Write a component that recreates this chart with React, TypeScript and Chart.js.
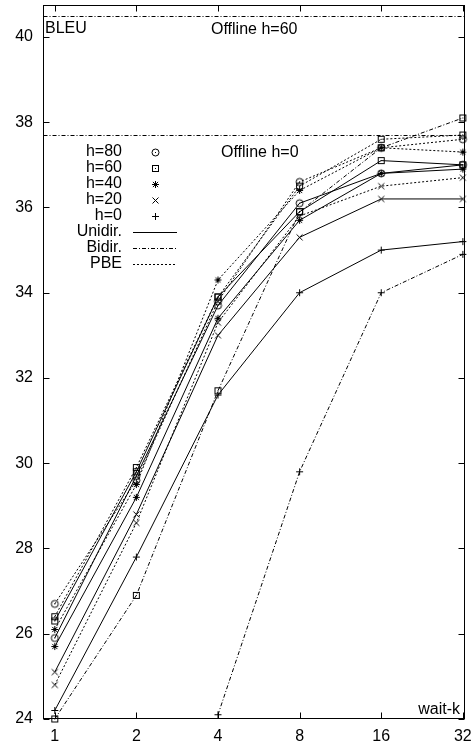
import React, { useEffect, useRef } from 'react';
import { Chart, registerables } from 'chart.js';

Chart.register(...registerables);

// ---- data ----
const waitK = [1, 2, 4, 8, 16, 32];
const yTickValues = [24, 26, 28, 30, 32, 34, 36, 38, 40];

const unidirH80 = [25.9, 29.7, 33.7, 36.1, 36.8, 37.0];
const pbeH80 = [26.7, 29.6, 33.8, 36.6, 37.4, 37.6];
const unidirH60 = [26.3, 29.8, 33.9, 35.9, 37.1, 37.0];
const pbeH60 = [26.4, 29.9, 33.9, 36.5, 37.6, 37.7];
const unidirH40 = [25.7, 29.2, 33.4, 35.7, 36.8, 36.9];
const pbeH40 = [26.1, 29.5, 34.3, 36.4, 37.4, 37.3];
const unidirH20 = [25.1, 28.8, 33.0, 35.3, 36.2, 36.2];
const pbeH20 = [24.8, 28.6, 33.3, 35.8, 36.5, 36.7];
const unidirH0 = [24.2, 27.8, 31.6, 34.0, 35.0, 35.2];
const bidirH60 = [24.0, 26.9, 31.7, 35.9, 37.4, 38.1];
const bidirH0 = [null, null, 24.1, 29.8, 34.0, 34.9];

const offlineValues = [40.5, 37.7];
const offlineLabels = ['Offline h=60', 'Offline h=0'];

const markerLabels = ['h=80', 'h=60', 'h=40', 'h=20', 'h=0'];
const markerKinds = ['circleDot', 'rectDot', 'star', 'x', 'plus'];
const styleLabels = ['Unidir.', 'Bidir.', 'PBE'];

const yTitle = 'BLEU';
const xTitle = 'wait-k';

// ---- styles ----
const FONT = '"Liberation Sans", Arial, Helvetica, sans-serif';
const DASH_SOLID: number[] = [];
const DASH_DASHDOT = [4, 2, 1, 2];
const DASH_DOT = [2, 2];
const styleDashes = [DASH_SOLID, DASH_DASHDOT, DASH_DOT];

function makeMarker(kind: string): HTMLCanvasElement {
  const c = document.createElement('canvas');
  c.width = 11;
  c.height = 11;
  const g = c.getContext('2d')!;
  g.strokeStyle = '#000';
  g.fillStyle = '#000';
  g.lineWidth = 1;
  const m = 5.5;
  g.beginPath();
  if (kind === 'circleDot') {
    g.arc(m, m, 3.5, 0, Math.PI * 2);
    g.stroke();
    g.fillRect(5, 5, 1, 1);
  } else if (kind === 'rectDot') {
    g.strokeRect(2.5, 2.5, 6, 6);
    g.fillRect(5, 5, 1, 1);
  } else if (kind === 'star') {
    const r = 3.5;
    g.moveTo(m - r, m); g.lineTo(m + r, m);
    g.moveTo(m, m - r); g.lineTo(m, m + r);
    g.moveTo(m - 2.6, m - 2.6); g.lineTo(m + 2.6, m + 2.6);
    g.moveTo(m - 2.6, m + 2.6); g.lineTo(m + 2.6, m - 2.6);
    g.stroke();
  } else if (kind === 'x') {
    const r = 3;
    g.moveTo(m - r, m - r); g.lineTo(m + r, m + r);
    g.moveTo(m - r, m + r); g.lineTo(m + r, m - r);
    g.stroke();
  } else {
    const r = 3.5;
    g.moveTo(m - r, m); g.lineTo(m + r, m);
    g.moveTo(m, m - r); g.lineTo(m, m + r);
    g.stroke();
  }
  return c;
}

export default function App() {
  const ref = useRef<HTMLCanvasElement | null>(null);

  useEffect(() => {
    if (!ref.current) return;
    const markers: Record<string, HTMLCanvasElement> = {};
    markerKinds.forEach((k) => (markers[k] = makeMarker(k)));

    const mk = (vals: (number | null)[], marker: string, dash: number[]) => ({
      data: waitK.map((k, i) => ({ x: k, y: vals[i] })),
      borderColor: '#000',
      backgroundColor: '#000',
      borderWidth: 1,
      borderDash: dash,
      pointStyle: markers[marker],
      pointRadius: 4,
      pointHoverRadius: 4,
      tension: 0,
      spanGaps: false,
      clip: false as any,
    });

    const datasets = [
      mk(unidirH80, 'circleDot', DASH_SOLID),
      mk(pbeH80, 'circleDot', DASH_DOT),
      mk(unidirH60, 'rectDot', DASH_SOLID),
      mk(pbeH60, 'rectDot', DASH_DOT),
      mk(unidirH40, 'star', DASH_SOLID),
      mk(pbeH40, 'star', DASH_DOT),
      mk(unidirH20, 'x', DASH_SOLID),
      mk(pbeH20, 'x', DASH_DOT),
      mk(unidirH0, 'plus', DASH_SOLID),
      mk(bidirH60, 'rectDot', DASH_DASHDOT),
      mk(bidirH0, 'plus', DASH_DASHDOT),
    ];

    const decor = {
      id: 'decor',
      afterDraw(chart: any) {
        const { ctx, chartArea: a, scales } = chart;
        const xs = scales.x;
        const ys = scales.y;
        ctx.save();
        ctx.strokeStyle = '#000';
        ctx.fillStyle = '#000';
        ctx.lineWidth = 1;
        const L = Math.round(a.left) + 0.5;
        const R = Math.round(a.right) - 0.5;
        const T = Math.round(a.top) + 0.5;
        const B = Math.round(a.bottom) - 0.5;
        // frame
        ctx.setLineDash([]);
        ctx.strokeRect(L, T, R - L, B - T);
        // inward ticks
        const tl = 6;
        ctx.beginPath();
        yTickValues.forEach((v) => {
          const py = Math.round(ys.getPixelForValue(v)) + 0.5;
          ctx.moveTo(L, py); ctx.lineTo(L + tl, py);
          ctx.moveTo(R, py); ctx.lineTo(R - tl, py);
        });
        waitK.forEach((v) => {
          const px = Math.round(xs.getPixelForValue(v)) + 0.5;
          ctx.moveTo(px, B); ctx.lineTo(px, B - tl);
          ctx.moveTo(px, T); ctx.lineTo(px, T + tl);
        });
        ctx.stroke();
        // offline lines
        ctx.font = `16px ${FONT}`;
        ctx.textBaseline = 'middle';
        const labelLeft = [a.left + 168, a.left + 178];
        const labelDy = [13, 17];
        offlineValues.forEach((v, i) => {
          const py = Math.round(ys.getPixelForValue(v)) + 0.5;
          ctx.setLineDash(DASH_DASHDOT);
          ctx.beginPath();
          ctx.moveTo(L, py);
          ctx.lineTo(R, py);
          ctx.stroke();
          ctx.setLineDash([]);
          ctx.textAlign = 'left';
          ctx.fillText(offlineLabels[i], labelLeft[i], py + labelDy[i]);
        });
        // titles
        ctx.textAlign = 'left';
        ctx.fillText(yTitle, a.left + 2, a.top + 24);
        ctx.textAlign = 'right';
        ctx.fillText(xTitle, a.right - 5, a.bottom - 9);
        // legend
        const textRight = a.left + 79;
        const sampleL = a.left + 90;
        const sampleR = a.left + 134;
        const y0 = 152;
        const dy = 16;
        markerLabels.forEach((lab, i) => {
          const yy = y0 + i * dy;
          ctx.textAlign = 'right';
          ctx.fillText(lab, textRight, yy);
          const img = markers[markerKinds[i]];
          ctx.drawImage(img, Math.round(a.left + 112 - 5.5), Math.round(yy - 5.5));
        });
        styleLabels.forEach((lab, i) => {
          const yy = y0 + (markerLabels.length + i) * dy;
          ctx.textAlign = 'right';
          ctx.fillText(lab, textRight, yy);
          ctx.setLineDash(styleDashes[i]);
          ctx.beginPath();
          ctx.moveTo(sampleL, Math.round(yy) + 0.5);
          ctx.lineTo(sampleR, Math.round(yy) + 0.5);
          ctx.stroke();
          ctx.setLineDash([]);
        });
        ctx.restore();
      },
    };

    const chart = new Chart(ref.current, {
      type: 'line',
      data: { datasets: datasets as any },
      options: {
        animation: false,
        responsive: false,
        maintainAspectRatio: false,
        layout: { padding: { top: 4, right: 8, left: 0, bottom: 0 } },
        plugins: { legend: { display: false }, tooltip: { enabled: false } },
        scales: {
          x: {
            type: 'logarithmic',
            min: 0.905,
            max: 32.6,
            afterBuildTicks: (s: any) => {
              s.ticks = waitK.map((v) => ({ value: v }));
            },
            afterFit: (s: any) => {
              s.height = 23;
              s.paddingLeft = 0;
              s.paddingRight = 0;
            },
            grid: { display: false, drawTicks: false },
            border: { display: false },
            ticks: {
              autoSkip: false,
              maxRotation: 0,
              minRotation: 0,
              padding: 8,
              color: '#000',
              font: { family: FONT, size: 16 },
              callback: (v: any) => String(v),
            },
          },
          y: {
            type: 'linear',
            min: 24,
            max: 40.75,
            afterBuildTicks: (s: any) => {
              s.ticks = yTickValues.map((v) => ({ value: v }));
            },
            afterFit: (s: any) => {
              s.width = 43;
              s.paddingTop = 0;
              s.paddingBottom = 0;
            },
            grid: { display: false, drawTicks: false },
            border: { display: false },
            ticks: {
              padding: 10,
              color: '#000',
              font: { family: FONT, size: 16 },
              callback: (v: any) => String(v),
            },
          },
        },
      },
      plugins: [decor],
    });
    return () => chart.destroy();
  }, []);

  return (
    <div style={{ position: 'absolute', left: 0, top: 0, width: 473, height: 742, background: '#fff' }}>
      <canvas ref={ref} width={473} height={742} style={{ width: 473, height: 742, display: 'block' }} />
    </div>
  );
}
